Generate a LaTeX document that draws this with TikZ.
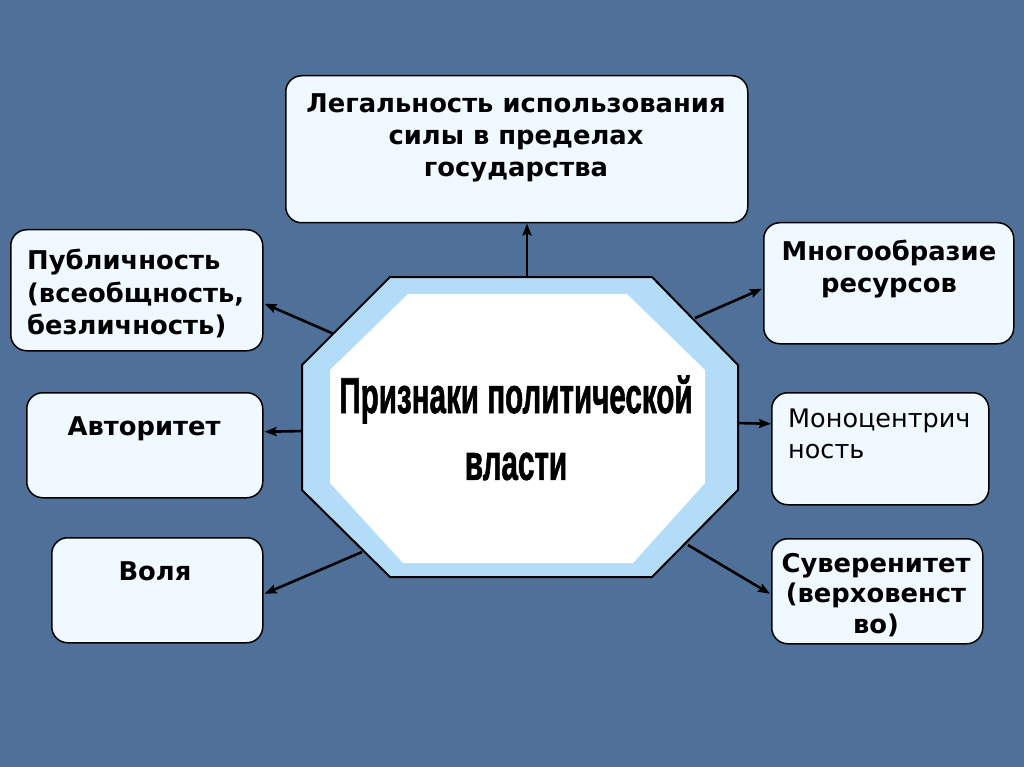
\documentclass[tikz,border=0pt]{standalone}
\usepackage{fontspec}
\setmainfont{DejaVu Sans}
\newfontfamily\narrowfont[FakeBold=1.6]{Liberation Sans}
\usetikzlibrary{arrows.meta}
\definecolor{bgblue}{RGB}{79,112,152}
\definecolor{boxfill}{RGB}{240,249,255}
\definecolor{octblue}{RGB}{178,220,247}
\newcommand\ctxt[1]{\begin{tabular}[t]{@{}c@{}}#1\end{tabular}}
\newcommand\ltxt[1]{\begin{tabular}[t]{@{}l@{}}#1\end{tabular}}
\tikzset{
  box/.style={draw=black, line width=1.5pt, fill=boxfill, rounded corners=16pt, anchor=north west, inner sep=0pt},
  lbl/.style={inner sep=0pt, anchor=base, font=\bfseries\fontsize{25.8}{32}\selectfont},
  arr/.style={draw=black, line width=2.6pt, -{Stealth[length=12pt,width=9pt,inset=2pt]}},
}
\begin{document}
\begin{tikzpicture}[x=1pt,y=-1pt]
\fill[bgblue] (0,0) rectangle (1024,767);
\useasboundingbox (0,0) rectangle (1024,767);

% boxes
\node[box, minimum width=462pt, minimum height=147pt] (legal) at (285,75) {};
\node[box, minimum width=252pt, minimum height=121pt] (pub) at (10,229) {};
\node[box, minimum width=236pt, minimum height=105pt] (avt) at (26,392) {};
\node[box, minimum width=211pt, minimum height=105pt] (vol) at (51,537) {};
\node[box, minimum width=250pt, minimum height=121pt] (mng) at (763,222) {};
\node[box, minimum width=217pt, minimum height=112pt] (mono) at (771,392) {};
\node[box, minimum width=211pt, minimum height=105pt] (sov) at (771,538) {};

% labels
\node[lbl] (legalT) at (516,113) {\ctxt{Легальность использования\\силы в пределах\\государства}};
\node[lbl, anchor=base west, font=\bfseries\fontsize{25.8}{33}\selectfont] (pubT) at (27,269) {\ltxt{Публичность\\(всеобщность,\\безличность)}};
\node[lbl] (avtT) at (144,435) {Авторитет};
\node[lbl] (volT) at (155,580) {Воля};
\node[lbl] (mngT) at (889,260) {\ctxt{Многообразие\\ресурсов}};
\node[inner sep=0pt, anchor=base west, font=\fontsize{25.5}{31}\selectfont] (monoT) at (788,427) {\ltxt{Моноцентрич\\ность}};
\node[lbl, font=\bfseries\fontsize{25.8}{30.5}\selectfont] (sovT) at (876,572) {\ctxt{Суверенитет\\(верховенст\\во)}};

% arrow start points on the octagon
\coordinate (oTop) at (527,280);
\coordinate (oPub) at (334,334);
\coordinate (oAvt) at (305,431);
\coordinate (oVol) at (362,552);
\coordinate (oMng) at (695,318);
\coordinate (oMono) at (735,423);
\coordinate (oSov) at (688,545);

\draw[arr] (oTop) -- (oTop |- legal.south);
\draw[arr] (oPub) -- ([yshift=-13.5pt,xshift=1pt]pub.east);
\draw[arr] (oAvt) -- ([yshift=13.5pt,xshift=1pt]avt.east);
\draw[arr] (oVol) -- ([yshift=-3.5pt,xshift=1pt]vol.east);
\draw[arr] (oMng) -- ([yshift=-5.5pt,xshift=-1pt]mng.west);
\draw[arr] (oMono) -- ([yshift=25pt]mono.west);
\draw[arr] (oSov) -- ([yshift=-2.5pt,xshift=-1pt]sov.west);

% octagon
\filldraw[fill=octblue, draw=black, line width=2pt, line join=miter]
  (390,277) -- (652,277) -- (738,365) -- (738,490) -- (652,577) -- (390,577) -- (302,490) -- (302,365) -- cycle;
\fill[white]
  (408,294) -- (627,294) -- (705,370) -- (705,483) -- (633,563) -- (403,563) -- (330,483) -- (330,370) -- cycle;

\node[inner sep=0pt, anchor=base] (title) at (516,413) {\scalebox{0.74}[1.26]{\narrowfont\bfseries\fontsize{40}{53}\selectfont\ctxt{Признаки политической\\власти}}};
\end{tikzpicture}
\end{document}
